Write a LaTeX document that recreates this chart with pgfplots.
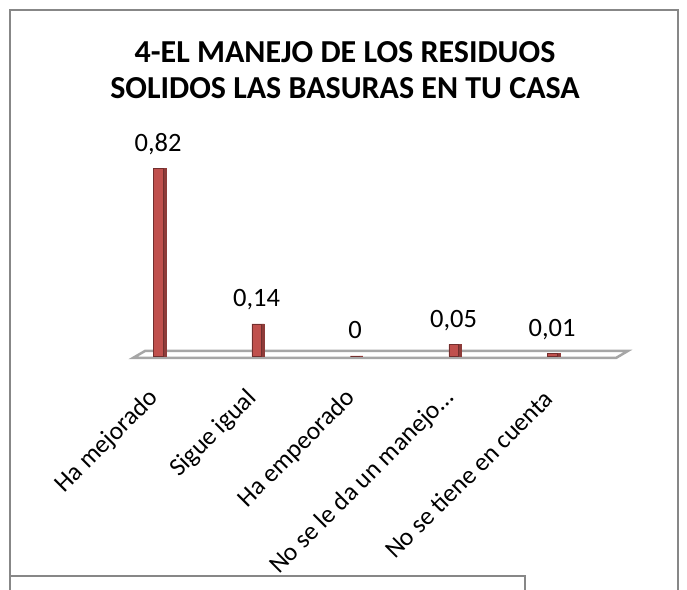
\documentclass[border=0pt]{standalone}
\usepackage{fontspec}
\setmainfont{Carlito}
\usepackage{pgfplots}
\pgfplotsset{compat=1.18}
\definecolor{barfront}{HTML}{C0504D}
\definecolor{barside}{HTML}{8E3B39}
\definecolor{framegray}{HTML}{878787}
\definecolor{floorgray}{HTML}{A6A6A6}
\begin{document}
\begin{tikzpicture}[x=1pt,y=1pt]
\path[use as bounding box] (0,0) rectangle (687,589);
\clip (0,0) rectangle (687,589);
% chart frame
\draw[framegray, line width=2pt] (10,-20) -- (10,579) -- (678,579) -- (678,-20);
% box at bottom
\draw[framegray, line width=2pt, fill=white] (10,-20) -- (10,13) -- (525,13) -- (525,-20);
% title
\node[anchor=base, font=\bfseries\fontsize{32}{36}\selectfont] at (345,526) {4-EL MANEJO DE LOS RESIDUOS};
\node[anchor=base, font=\bfseries\fontsize{32}{36}\selectfont] at (345,490) {SOLIDOS LAS BASURAS EN TU CASA};
\begin{axis}[
  at={(120pt,201pt)}, anchor=south west,
  x=98.5pt, y=229pt,
  xmin=-0.386, xmax=4.893, ymin=-0.14, ymax=1.0,
  clip=false,
  axis line style={draw=none},
  major tick length=0pt,
  ytick=\empty,
  xtick={0,1,2,3,4},
  xticklabels={Ha mejorado, Sigue igual, Ha empeorado, No se le da un manejo…, No se tiene en cuenta},
  xticklabel style={rotate=45, anchor=east, inner sep=0pt, xshift=-7pt, yshift=-2pt, font=\fontsize{25.5}{29}\selectfont},
  ybar,
]
\draw[floorgray, line width=2.5pt, fill=white] (axis cs:-0.254,-0.0087) -- (axis cs:4.65,-0.0087) -- (axis cs:4.77,0.0218) -- (axis cs:-0.132,0.0218) -- cycle;
\addplot[fill=barside, draw=barside, bar width=3pt, bar shift=6.25pt] coordinates {(0,0.82) (1,0.14) (2,0) (3,0.05) (4,0.01)};
\addplot[fill=barfront, draw=barside!80!black, line width=0.4pt, bar width=9.5pt, bar shift=0pt,
  nodes near coords={\pgfmathprintnumber[use comma,fixed,precision=2,assume math mode=true]{\pgfplotspointmeta}},
  every node near coord/.append style={anchor=base, inner sep=0pt, yshift=17pt, text=black, font=\fontsize{26.5}{30}\selectfont}]
  coordinates {(0,0.82) (1,0.14) (2,0) (3,0.05) (4,0.01)};
\end{axis}
\end{tikzpicture}
\end{document}
